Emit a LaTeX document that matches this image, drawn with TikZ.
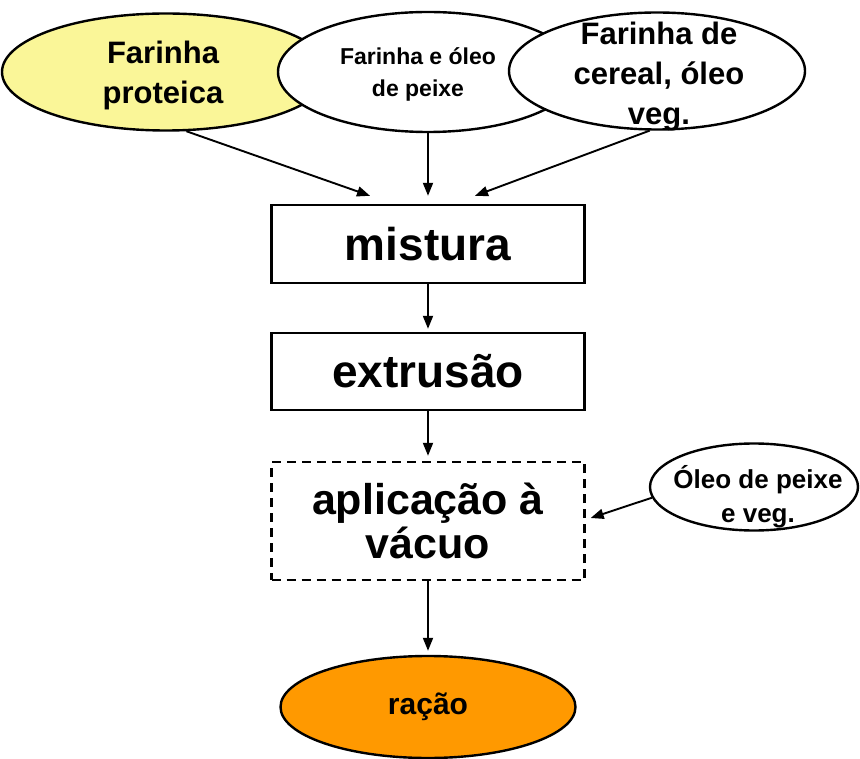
\documentclass[tikz,border=0pt]{standalone}
\usepackage{fontspec}
\setmainfont{Liberation Sans}
\usetikzlibrary{shapes.geometric,arrows.meta}
\definecolor{paleyellow}{RGB}{250,246,152}
\definecolor{orng}{RGB}{255,153,0}
\begin{document}
\begin{tikzpicture}[x=1pt,y=-1pt,
  ell/.style={ellipse,draw,line width=2.4pt,inner sep=0pt},
  procbox/.style={rectangle,draw,line width=2.4pt,minimum width=313pt,inner sep=0pt},
  lbl/.style={font=\bfseries,align=center,inner sep=0pt},
  arr/.style={-{Triangle[length=13pt,width=10pt]},line width=1.9pt}]
\useasboundingbox (0,0) rectangle (860,759);
% top ellipses
\node[ell,fill=paleyellow,minimum width=328pt,minimum height=117pt] (fp) at (166,72) {};
\node[lbl,font=\bfseries\fontsize{31}{40}\selectfont] (fpT) at (163,75) {Farinha\\proteica};
\node[ell,fill=white,minimum width=300pt,minimum height=120pt] (fo) at (428,72) {};
\node[lbl,font=\bfseries\fontsize{23}{32}\selectfont] (foT) at (418,74) {Farinha e óleo\\de peixe};
\node[ell,fill=white,minimum width=296pt,minimum height=117pt] (fc) at (657,71) {};
\node[lbl,font=\bfseries\fontsize{31}{40}\selectfont] (fcT) at (659,77) {Farinha de\\cereal, óleo\\veg.};
% process boxes
\node[procbox,minimum height=78pt,font=\bfseries\fontsize{46}{50}\selectfont] (mi) at (428,244) {mistura};
\node[procbox,minimum height=77pt,font=\bfseries\fontsize{46}{50}\selectfont] (ex) at (428,371.5) {extrusão};
\node[procbox,dash pattern=on 9pt off 6pt,minimum height=118pt,align=center,font=\bfseries\fontsize{43}{44}\selectfont] (ap) at (428,521) {aplicação à\\vácuo};
% side ellipse
\node[ell,fill=white,minimum width=208pt,minimum height=87pt] (ov) at (754,487) {};
\node[lbl,font=\bfseries\fontsize{26}{34}\selectfont] (ovT) at (758,497) {Óleo de peixe\\e veg.};
% result
\node[ell,fill=orng,minimum width=295pt,minimum height=102pt,font=\bfseries\fontsize{30}{32}\selectfont] (ra) at (428,707) {ração};
% arrows
\draw[arr] (fp.-71) -- ([xshift=-58pt,yshift=8pt]mi.north);
\draw[arr] (fo.south) -- ([yshift=8pt]mi.north);
\draw[arr] (fc.-97) -- ([xshift=47pt,yshift=8pt]mi.north);
\draw[arr] (mi.south) -- ([yshift=3pt]ex.north);
\draw[arr] (ex.south) -- ([yshift=5pt]ap.north);
\draw[arr] (ap.south) -- ([yshift=4pt]ra.north);
\draw[arr] (ov.186) -- ([xshift=5pt,yshift=3pt]ap.east);
\end{tikzpicture}
\end{document}
